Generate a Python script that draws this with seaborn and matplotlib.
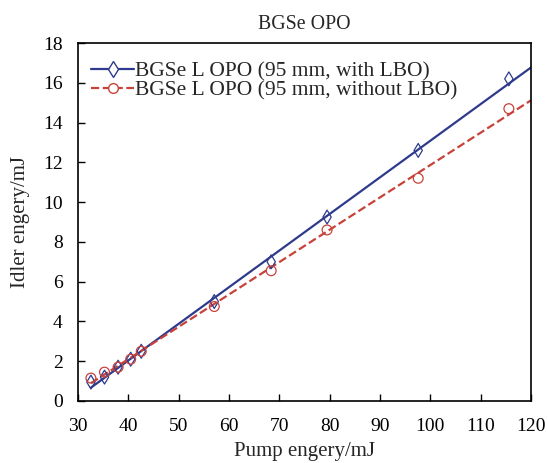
import numpy as np
import pandas as pd
import seaborn as sns
import matplotlib
matplotlib.use("Agg")
import matplotlib.pyplot as plt
from matplotlib.lines import Line2D

pump_with = [32.6, 35.3, 38.0, 40.5, 42.6, 57.1, 68.4, 79.5, 97.6, 115.6]
idler_with = [0.95, 1.2, 1.7, 2.1, 2.5, 5.0, 7.0, 9.25, 12.6, 16.2]
pump_without = [32.6, 35.3, 38.0, 40.5, 42.6, 57.1, 68.4, 79.5, 97.6, 115.6]
idler_without = [1.15, 1.45, 1.7, 2.1, 2.5, 4.75, 6.55, 8.6, 11.2, 14.7]

label_with = "BGSe L OPO (95 mm, with LBO)"
label_without = "BGSe L OPO (95 mm, without LBO)"
xticks = [30, 40, 50, 60, 70, 80, 90, 100, 110, 120]
yticks = [0, 2, 4, 6, 8, 10, 12, 14, 16, 18]

sns.set_theme(style="ticks")
plt.rcParams['font.family'] = ['Liberation Serif', 'DejaVu Serif']

blue = "#2e3a8c"
red = "#c8423a"

fig = plt.figure(figsize=(5.48, 4.63), dpi=100)
ax = fig.add_axes([0.142, 0.134, 0.827, 0.773])

# fitted lines
for px, py, col, ls in [(pump_with, idler_with, blue, "-"), (pump_without, idler_without, red, "--")]:
    k, b = np.polyfit(px, py, 1)
    xf = np.array([px[0], 120.0])
    sns.lineplot(x=xf, y=k * xf + b, ax=ax, color=col, linestyle=ls, linewidth=1.6,
                 legend=False, zorder=2)

sns.scatterplot(x=pump_with, y=idler_with, ax=ax, marker="d", s=50,
                facecolors="none", edgecolors=blue, linewidth=0.9, zorder=3)
sns.scatterplot(x=pump_without, y=idler_without, ax=ax, marker="o", s=50,
                facecolors="none", edgecolors=red, linewidth=0.9, zorder=3)

handles = [
    Line2D([], [], color=blue, linestyle="-", linewidth=1.6, marker="d",
           markerfacecolor="white", markeredgecolor=blue, markersize=8),
    Line2D([], [], color=red, linestyle="--", linewidth=1.6, marker="o",
           markerfacecolor="white", markeredgecolor=red, markersize=7),
]
ax.legend(handles, [label_with, label_without], loc="upper left", frameon=False,
          fontsize=15.5, handlelength=2.0, handletextpad=0.05, labelspacing=-0.05,
          borderaxespad=0.0, borderpad=0.2, bbox_to_anchor=(0.02, 0.96))

ax.set_xlim(30, 120)
ax.set_ylim(0, 18)
ax.set_xticks(xticks)
ax.set_yticks(yticks)
ax.tick_params(direction="in", length=5, width=1, labelsize=14, colors="black",
               top=False, right=False)
ax.tick_params(axis="x", pad=12)
ax.tick_params(axis="y", pad=11)
for s in ax.spines.values():
    s.set_linewidth(1.2)
    s.set_color("black")

ax.set_xlabel("Pump engery/mJ", fontsize=15, labelpad=5)
ax.set_ylabel("Idler engery/mJ", fontsize=15, labelpad=9)
ax.set_title("BGSe OPO", fontsize=14.3, pad=10)

fig.savefig("out.png", dpi=100)
